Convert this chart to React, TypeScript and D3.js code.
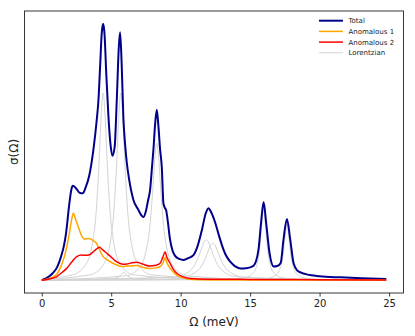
import * as React from "react";
import * as d3 from "d3";

// values (x in meV, y in arbitrary units)
const totalPts = [
  [0, 0], [0.4, 0.01], [0.79, 0.027], [1.1, 0.05], [1.39, 0.092], [1.6, 0.135], [1.75, 0.183],
  [1.99, 0.3], [2.12, 0.35], [2.23, 0.368], [2.45, 0.36], [2.75, 0.34], [2.95, 0.339], [3.15, 0.36],
  [3.43, 0.41], [3.72, 0.509], [3.95, 0.62], [4.08, 0.7], [4.2, 0.83], [4.32, 0.964], [4.42, 1.0],
  [4.52, 0.96], [4.65, 0.8], [4.8, 0.64], [4.95, 0.53], [5.09, 0.485], [5.25, 0.52], [5.4, 0.7],
  [5.55, 0.91], [5.64, 0.967], [5.75, 0.85], [5.88, 0.63], [6.0, 0.53], [6.12, 0.46], [6.3, 0.39],
  [6.6, 0.313], [6.96, 0.274], [7.15, 0.255], [7.32, 0.246], [7.5, 0.27], [7.65, 0.31], [7.8, 0.352],
  [7.95, 0.45], [8.04, 0.509], [8.15, 0.6], [8.28, 0.665], [8.4, 0.6], [8.52, 0.51], [8.64, 0.443],
  [8.76, 0.3], [8.88, 0.28], [8.95, 0.274], [9.05, 0.24], [9.24, 0.157], [9.42, 0.115], [9.6, 0.095],
  [9.9, 0.083], [10.2, 0.079], [10.5, 0.085], [10.92, 0.098], [11.2, 0.13], [11.53, 0.196], [11.8, 0.26],
  [12.0, 0.281], [12.2, 0.265], [12.5, 0.222], [12.75, 0.175], [12.97, 0.137], [13.25, 0.098],
  [13.57, 0.072], [13.9, 0.055], [14.29, 0.046], [14.7, 0.047], [15.0, 0.05], [15.25, 0.056],
  [15.6, 0.118], [15.78, 0.22], [15.97, 0.305], [16.16, 0.22], [16.4, 0.105], [16.7, 0.053],
  [16.95, 0.055], [17.2, 0.067], [17.4, 0.157], [17.65, 0.239], [17.89, 0.157], [18.13, 0.066],
  [18.5, 0.033], [19.3, 0.02], [20.0, 0.015], [21.5, 0.011], [23.0, 0.008], [24.8, 0.005],
];

const anom1Pts = [
  [0, 0], [0.5, 0.006], [1.03, 0.02], [1.35, 0.05], [1.63, 0.092], [1.99, 0.183], [2.15, 0.235],
  [2.28, 0.261], [2.45, 0.235], [2.71, 0.196], [2.9, 0.17], [3.07, 0.16], [3.3, 0.163], [3.55, 0.16],
  [3.75, 0.152], [3.91, 0.146], [4.15, 0.12], [4.39, 0.094], [4.7, 0.08], [5.11, 0.066], [5.5, 0.057],
  [5.84, 0.053], [6.12, 0.055], [6.5, 0.056], [6.84, 0.057], [7.3, 0.05], [7.8, 0.046], [8.2, 0.048],
  [8.52, 0.053], [8.75, 0.07], [8.88, 0.088], [9.0, 0.07], [9.24, 0.046], [9.5, 0.03], [9.72, 0.02],
  [10.1, 0.01], [10.5, 0.005], [11.5, 0.002], [13, 0.001], [24.8, 0.001],
];

const anom2Pts = [
  [0, 0], [0.5, 0.004], [1.08, 0.014], [1.45, 0.03], [1.8, 0.046], [2.15, 0.07], [2.52, 0.092],
  [2.88, 0.098], [3.15, 0.097], [3.36, 0.098], [3.55, 0.103], [3.72, 0.111], [3.95, 0.122],
  [4.15, 0.128], [4.4, 0.118], [4.68, 0.105], [5.0, 0.09], [5.28, 0.076], [5.6, 0.066], [5.88, 0.062],
  [6.12, 0.063], [6.5, 0.068], [6.84, 0.07], [7.3, 0.062], [7.8, 0.055], [8.2, 0.058], [8.52, 0.066],
  [8.72, 0.09], [8.88, 0.111], [9.0, 0.09], [9.24, 0.066], [9.5, 0.04], [9.72, 0.027], [10.2, 0.013],
  [10.68, 0.007], [12, 0.004], [15, 0.003], [20, 0.002], [24.8, 0.001],
];

// lorentzian components
const lorA = [[0, 0.005], [2.22, 0.021], [3.12, 0.057], [3.62, 0.134], [3.92, 0.267], [4.12, 0.45], [4.27, 0.632], [4.42, 0.73], [4.57, 0.632], [4.72, 0.45], [4.92, 0.267], [5.22, 0.134], [5.72, 0.057], [6.62, 0.021], [12, 0.003], [24.8, 0.001]];
const lorB = [[0, 0.003], [3.49, 0.021], [4.39, 0.057], [4.89, 0.134], [5.19, 0.267], [5.39, 0.45], [5.54, 0.632], [5.69, 0.73], [5.84, 0.632], [5.99, 0.45], [6.19, 0.267], [6.49, 0.134], [6.99, 0.057], [7.89, 0.021], [14, 0.003], [24.8, 0.001]];
const lorC = [[0, 0.001], [6.08, 0.017], [6.98, 0.046], [7.48, 0.107], [7.78, 0.209], [7.98, 0.342], [8.13, 0.469], [8.28, 0.535], [8.43, 0.469], [8.58, 0.342], [8.78, 0.209], [9.08, 0.107], [9.58, 0.046], [10.48, 0.017], [16, 0.002], [24.8, 0.001]];
const lorD = [[0, 0.001], [9.64, 0.013], [10.54, 0.031], [11.04, 0.062], [11.34, 0.099], [11.54, 0.129], [11.69, 0.149], [11.84, 0.157], [11.99, 0.149], [12.14, 0.129], [12.34, 0.099], [12.64, 0.062], [13.14, 0.031], [14.04, 0.013], [20, 0.002], [24.8, 0.001]];
const lorE = [[0, 0.001], [10.12, 0.012], [11.02, 0.029], [11.52, 0.057], [11.82, 0.09], [12.02, 0.119], [12.17, 0.137], [12.32, 0.144], [12.47, 0.137], [12.62, 0.119], [12.82, 0.09], [13.12, 0.057], [13.62, 0.029], [14.52, 0.012], [20, 0.002], [24.8, 0.001]];
const lorF = [[0, 0], [13.77, 0.004], [14.67, 0.01], [15.17, 0.025], [15.47, 0.056], [15.67, 0.115], [15.82, 0.206], [15.97, 0.28], [16.12, 0.206], [16.27, 0.115], [16.47, 0.056], [16.77, 0.025], [17.27, 0.01], [18.17, 0.004], [24.8, 0.001]];
const lorG = [[0, 0], [15.45, 0.003], [16.35, 0.008], [16.85, 0.02], [17.15, 0.044], [17.35, 0.09], [17.5, 0.162], [17.65, 0.22], [17.8, 0.162], [17.95, 0.09], [18.15, 0.044], [18.45, 0.02], [18.95, 0.008], [19.85, 0.003], [24.8, 0.001]];
const lorS = [[0, 0], [4.9, 0.004], [5.5, 0.012], [5.9, 0.03], [6.3, 0.012], [6.9, 0.004], [24.8, 0]];

const lorentzians = [lorA, lorB, lorC, lorD, lorE, lorF, lorG, lorS];

const xTicks = [0, 5, 10, 15, 20, 25];
const legendLabels = ["Total", "Anomalous 1", "Anomalous 2", "Lorentzian"];
const legendColors = ["#00008b", "#ffa500", "#ff0000", "#d3d3d3"];

const FONT = "DejaVu Sans, sans-serif";

function drawChart(svgRef) {
  const W = 415, H = 336;
  const left = 24.5, right = 403.5, top = 11, bottom = 293;

  const x = d3.scaleLinear().domain([-1.24, 26.04]).range([left, right]);
  const y = d3.scaleLinear().domain([-0.05, 1.05]).range([bottom, top]);

  const svg = d3.select(svgRef.current).attr("width", W).attr("height", H);
  svg.selectAll("*").remove();

  svg.append("rect").attr("width", W).attr("height", H).attr("fill", "white");

  const line = d3.line()
    .x(d => x(d[0]))
    .y(d => y(d[1]))
    .curve(d3.curveMonotoneX);

  const plot = svg.append("g");

  lorentzians.forEach(pts => {
    plot.append("path")
      .attr("d", line(pts))
      .attr("fill", "none")
      .attr("stroke", "#d3d3d3")
      .attr("stroke-width", 1);
  });

  plot.append("path").attr("d", line(totalPts))
    .attr("fill", "none").attr("stroke", "#00008b").attr("stroke-width", 2)
    .attr("stroke-linejoin", "round");
  plot.append("path").attr("d", line(anom1Pts))
    .attr("fill", "none").attr("stroke", "#ffa500").attr("stroke-width", 1.5)
    .attr("stroke-linejoin", "round");
  plot.append("path").attr("d", line(anom2Pts))
    .attr("fill", "none").attr("stroke", "#ff0000").attr("stroke-width", 1.5)
    .attr("stroke-linejoin", "round");

  // frame
  svg.append("rect")
    .attr("x", left).attr("y", top)
    .attr("width", right - left).attr("height", bottom - top)
    .attr("fill", "none").attr("stroke", "#222").attr("stroke-width", 0.9);

  // x axis
  const xAxis = svg.append("g")
    .attr("transform", `translate(0, ${bottom})`)
    .call(d3.axisBottom(x).tickValues(xTicks).tickSize(3.5).tickPadding(3.5).tickFormat(d3.format("d")));
  xAxis.select(".domain").remove();
  xAxis.selectAll("line").attr("stroke", "#222").attr("stroke-width", 0.9);
  xAxis.selectAll("text")
    .attr("font-family", FONT).attr("font-size", 10).attr("fill", "#222");

  svg.append("text")
    .attr("x", (left + right) / 2).attr("y", 325.5)
    .attr("text-anchor", "middle")
    .attr("font-family", FONT).attr("font-size", 12).attr("fill", "#222")
    .text("Ω (meV)");

  svg.append("text")
    .attr("transform", `translate(17.5, ${(top + bottom) / 2}) rotate(-90)`)
    .attr("text-anchor", "middle")
    .attr("font-family", FONT).attr("font-size", 12).attr("fill", "#222")
    .text("σ(Ω)");

  // legend
  const legend = svg.append("g");
  legendLabels.forEach((label, i) => {
    const ly = 20.7 + i * 10.7;
    legend.append("line")
      .attr("x1", 319).attr("x2", 343).attr("y1", ly).attr("y2", ly)
      .attr("stroke", legendColors[i])
      .attr("stroke-width", i === 0 ? 2 : i === 3 ? 1 : 1.5);
    legend.append("text")
      .attr("x", 348.5).attr("y", ly + 2.5)
      .attr("font-family", FONT).attr("font-size", 7).attr("fill", "#222")
      .text(label);
  });
}

const App = () => {
  const svgRef = React.useRef(null);

  React.useEffect(() => {
    drawChart(svgRef);
  }, [svgRef]);

  return (
    <div style={{ position: "absolute", left: 0, top: 0 }}>
      <svg ref={svgRef} style={{ display: "block" }} />
    </div>
  );
};

export default App;
